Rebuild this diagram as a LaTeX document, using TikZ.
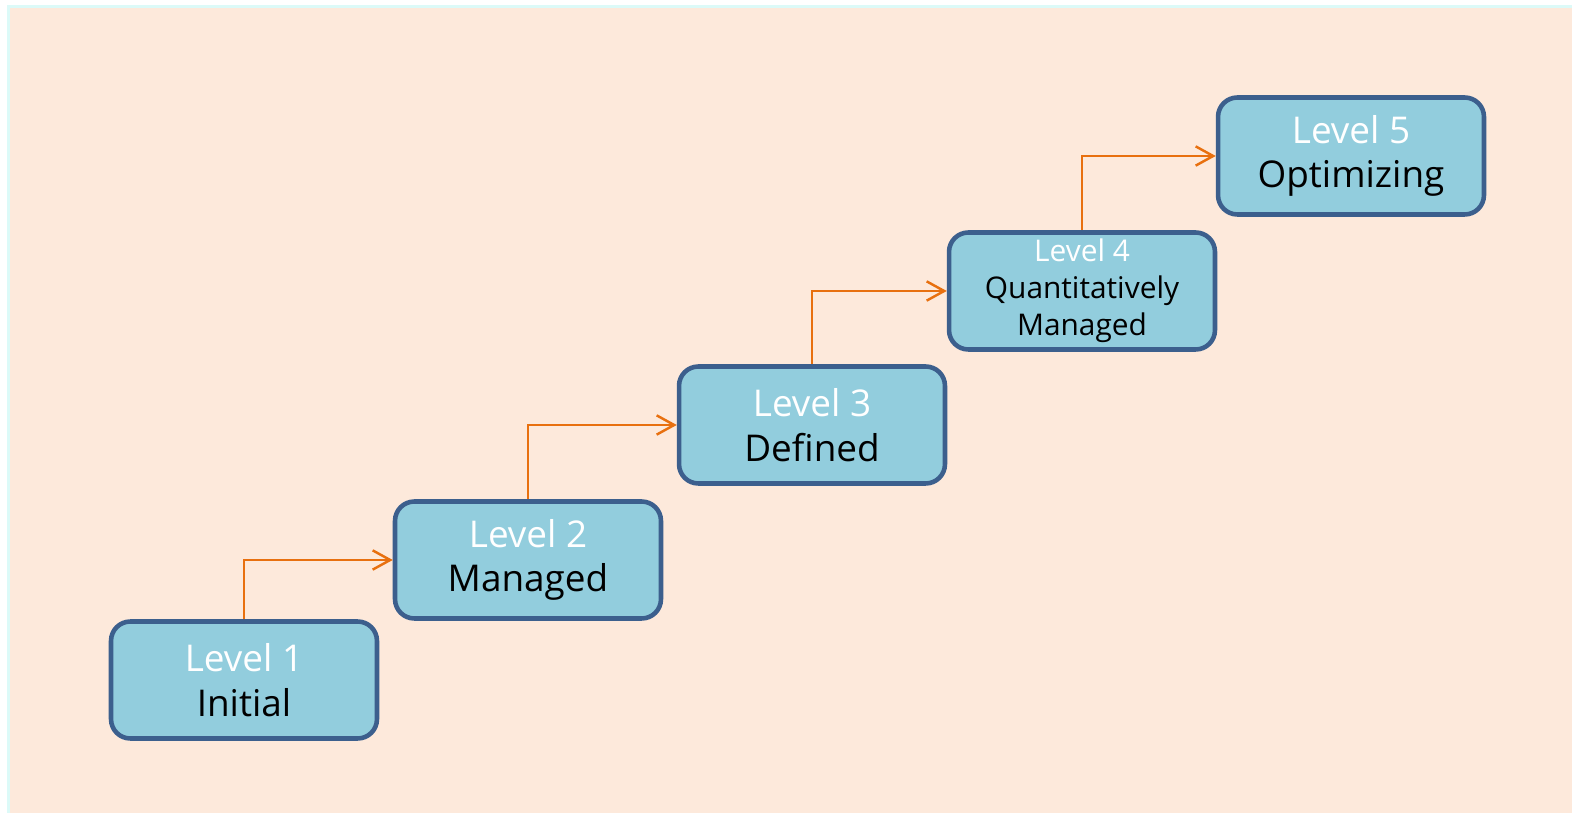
\documentclass[tikz,border=0pt]{standalone}
\usepackage{fontspec}
\setmainfont{Open Sans}
\usepackage{tikz}
\usetikzlibrary{arrows.meta}

\definecolor{pagebg}{HTML}{FDE9DB}
\definecolor{edgebg}{HTML}{DCFAF8}
\definecolor{boxfill}{HTML}{92CDDD}
\definecolor{boxline}{HTML}{3C5F8D}
\definecolor{steparrow}{HTML}{E8700F}

\tikzset{
  stagebox/.style = {draw=boxline, fill=boxfill, line width=2.6pt, rounded corners=11pt,
                     minimum width=5.32cm, minimum height=2.34cm, align=center,
                     inner sep=0pt, font=\fontsize{21}{25.5}\selectfont},
  smallbox/.style = {stagebox, font=\fontsize{17}{21}\selectfont},
  climb/.style    = {draw=steparrow, line width=1.4pt, -{Straight Barb[length=10pt,width=11pt]}}
}

\begin{document}
\begin{tikzpicture}[x=0.02cm, y=-0.02cm]

% background
\fill[white] (0,0) rectangle (1572,813);
\fill[edgebg] (7,5) rectangle (1572,813);
\fill[pagebg] (10,8) rectangle (1572,813);
\useasboundingbox (0,0) rectangle (1572,813);

\node [stagebox] (L1) at (244, 680) {\textcolor{white}{Level 1}\\Initial};
\node [stagebox] (L2) at (528, 560) {\textcolor{white}{Level 2}\\Managed};
\node [stagebox] (L3) at (812, 425) {\textcolor{white}{Level 3}\\Defined};
\node [smallbox] (L4) at (1082, 291) {\textcolor{white}{Level 4}\\Quantitatively\\Managed};
\node [stagebox] (L5) at (1351, 156) {\textcolor{white}{Level 5}\\Optimizing};

\draw[climb] (L1.north) |- (L2.west);
\draw[climb] (L2.north) |- (L3.west);
\draw[climb] (L3.north) |- (L4.west);
\draw[climb] (L4.north) |- (L5.west);
\end{tikzpicture}
\end{document}
